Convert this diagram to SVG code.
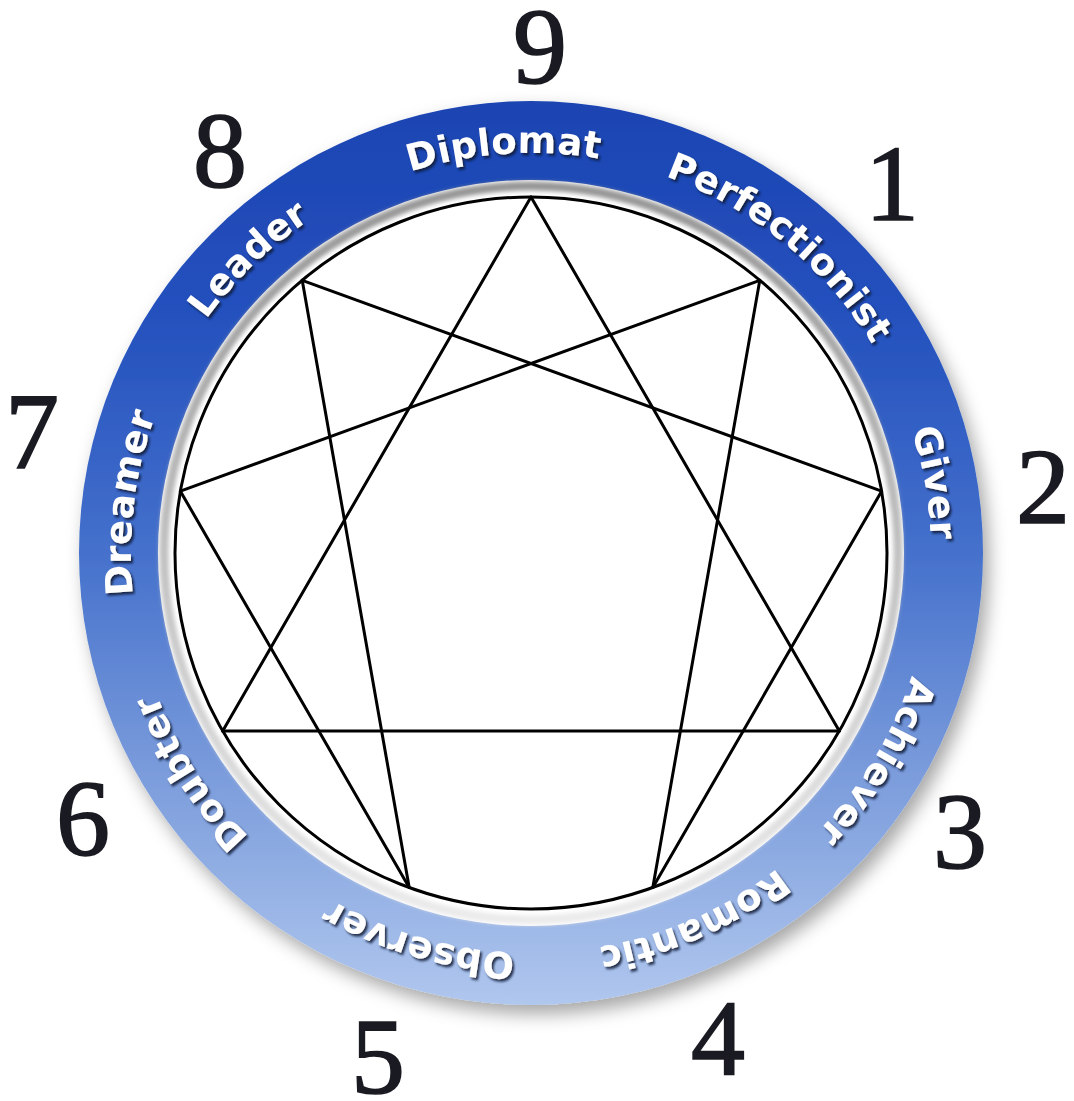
<svg xmlns="http://www.w3.org/2000/svg" xmlns:xlink="http://www.w3.org/1999/xlink" width="1074" height="1101" viewBox="0 0 1074 1101">
<style>
.num{font-family:"Liberation Serif","Times New Roman",serif;font-size:108px;fill:#1a1b22;stroke:#1a1b22;stroke-width:1.6;text-anchor:middle}
.lbl{font-family:"DejaVu Sans","Liberation Sans",sans-serif;font-weight:bold;font-size:37px;fill:#ffffff;letter-spacing:0.3px;filter:url(#tshadow)}
.edge{stroke:#000;stroke-width:3;fill:none;stroke-linecap:round}
</style>
<defs>
<linearGradient id="ringGrad" gradientUnits="userSpaceOnUse" x1="0" y1="102" x2="0" y2="1005">
<stop offset="0" stop-color="#1b44b2"/>
<stop offset="0.25" stop-color="#2552be"/>
<stop offset="0.5" stop-color="#4571cc"/>
<stop offset="0.75" stop-color="#7c9ddc"/>
<stop offset="1" stop-color="#b0c7ee"/>
</linearGradient>
<linearGradient id="bevel" gradientUnits="userSpaceOnUse" x1="0" y1="180" x2="0" y2="926">
<stop offset="0" stop-color="#959595"/>
<stop offset="0.5" stop-color="#c0c0c0"/>
<stop offset="1" stop-color="#ececec"/>
</linearGradient>
<filter id="ringShadow" x="-10%" y="-10%" width="125%" height="125%">
<feDropShadow dx="6" dy="9" stdDeviation="9" flood-color="#000" flood-opacity="0.35"/>
</filter>
<filter id="soft" x="-5%" y="-5%" width="110%" height="110%">
<feGaussianBlur stdDeviation="2"/>
</filter>
<filter id="tshadow" x="-10%" y="-30%" width="130%" height="170%">
<feDropShadow dx="2" dy="2.5" stdDeviation="1" flood-color="#0a1433" flood-opacity="0.85"/>
</filter>
<path id="arc" d="M 531 953 A 400 400 0 0 1 531 153 A 400 400 0 0 1 531 953 A 400 400 0 0 1 531 153 A 400 400 0 0 1 531 953"/>
</defs>
<rect x="0" y="0" width="1074" height="1101" fill="#ffffff"/>
<g id="ring">
<circle cx="531" cy="553" r="452" fill="url(#ringGrad)" filter="url(#ringShadow)"/>
<circle cx="531" cy="553" r="373" fill="#ffffff"/>
<circle cx="531" cy="553" r="367" fill="none" stroke="url(#bevel)" stroke-width="9" filter="url(#soft)"/>
<circle cx="531" cy="553" r="356" fill="none" stroke="#000" stroke-width="3"/>
</g>
<g id="connectors">
<line class="edge" x1="531" y1="197" x2="839.3" y2="731"/>
<line class="edge" x1="839.3" y1="731" x2="222.7" y2="731"/>
<line class="edge" x1="222.7" y1="731" x2="531" y2="197"/>
<line class="edge" x1="759.8" y1="280.3" x2="652.8" y2="887.5"/>
<line class="edge" x1="652.8" y1="887.5" x2="881.6" y2="491.2"/>
<line class="edge" x1="881.6" y1="491.2" x2="302.2" y2="280.3"/>
<line class="edge" x1="302.2" y1="280.3" x2="409.2" y2="887.5"/>
<line class="edge" x1="409.2" y1="887.5" x2="180.4" y2="491.2"/>
<line class="edge" x1="180.4" y1="491.2" x2="759.8" y2="280.3"/>
</g>
<g id="type-9">
<text class="num" x="540" y="83">9</text>
<text class="lbl" text-anchor="middle"><textPath href="#arc" xlink:href="#arc" startOffset="1229">Diplomat</textPath></text>
</g>
<g id="type-1">
<text class="num" x="892" y="220">1</text>
<text class="lbl" text-anchor="middle"><textPath href="#arc" xlink:href="#arc" startOffset="1529">Perfectionist</textPath></text>
</g>
<g id="type-2">
<text class="num" x="1043" y="523">2</text>
<text class="lbl" text-anchor="middle"><textPath href="#arc" xlink:href="#arc" startOffset="1815">Giver</textPath></text>
</g>
<g id="type-3">
<text class="num" x="960" y="868">3</text>
<text class="lbl" text-anchor="middle"><textPath href="#arc" xlink:href="#arc" startOffset="2101">Achiever</textPath></text>
</g>
<g id="type-4">
<text class="num" x="718" y="1075">4</text>
<text class="lbl" text-anchor="middle"><textPath href="#arc" xlink:href="#arc" startOffset="2346">Romantic</textPath></text>
</g>
<g id="type-5">
<text class="num" x="378" y="1093">5</text>
<text class="lbl" text-anchor="middle"><textPath href="#arc" xlink:href="#arc" startOffset="2625">Observer</textPath></text>
</g>
<g id="type-6">
<text class="num" x="83" y="855">6</text>
<text class="lbl" text-anchor="middle"><textPath href="#arc" xlink:href="#arc" startOffset="2911">Doubter</textPath></text>
</g>
<g id="type-7">
<text class="num" x="32" y="468">7</text>
<text class="lbl" text-anchor="middle"><textPath href="#arc" xlink:href="#arc" startOffset="3190">Dreamer</textPath></text>
</g>
<g id="type-8">
<text class="num" x="220" y="187">8</text>
<text class="lbl" text-anchor="middle"><textPath href="#arc" xlink:href="#arc" startOffset="3462">Leader</textPath></text>
</g>
</svg>
